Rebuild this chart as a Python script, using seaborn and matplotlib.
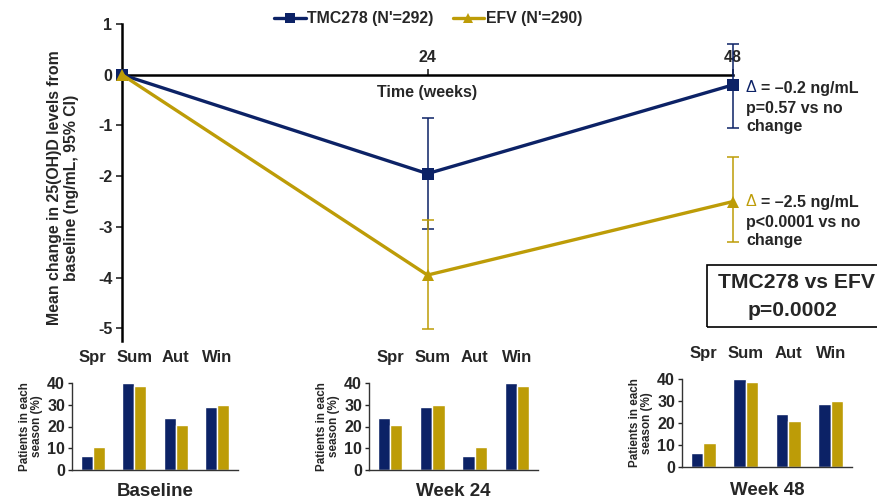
import matplotlib
matplotlib.use("Agg")
import matplotlib.pyplot as plt
import numpy as np
import pandas as pd
import seaborn as sns
from matplotlib.lines import Line2D
from matplotlib.patches import Rectangle

# Mean change in 25(OH)D (ng/mL) with 95% CI
weeks = [0, 24, 48]
tmc_mean = [0.0, -1.95, -0.2]
tmc_lo = [0.0, -3.05, -1.05]
tmc_hi = [0.0, -0.85, 0.6]
efv_mean = [0.0, -3.95, -2.5]
efv_lo = [0.0, -5.02, -3.3]
efv_hi = [0.0, -2.87, -1.63]

arm_tmc = "TMC278 (N'=292)"
arm_efv = "EFV (N'=290)"

# Patients in each season (%)
seasons = ["Spr", "Sum", "Aut", "Win"]
baseline_tmc = [6.5, 40.0, 24.0, 28.8]
baseline_efv = [10.8, 38.5, 20.7, 30.0]
week24_tmc = [24.0, 28.8, 6.5, 40.0]
week24_efv = [20.7, 30.0, 10.8, 38.5]
week48_tmc = [6.5, 40.0, 24.0, 28.8]
week48_efv = [10.8, 38.5, 20.7, 30.0]
panel_titles = ["Baseline", "Week 24", "Week 48"]

NAVY = "#0c2266"
GOLD = "#bd9c07"
palette = {arm_tmc: NAVY, arm_efv: GOLD}

sns.set_theme(style="white")
plt.rcParams["font.family"] = ["Liberation Sans", "DejaVu Sans"]
plt.rcParams["axes.unicode_minus"] = False

W, H = 877, 499
fig = plt.figure(figsize=(W / 100, H / 100), dpi=100)


def fx(px):
    return px / W


def fy(py):
    return 1 - py / H


# ---- main line chart ----
ax = fig.add_axes([fx(122), fy(341), fx(733) - fx(122), fy(24) - fy(341)])
line_df = pd.DataFrame({
    "Week": weeks + weeks,
    "Change": tmc_mean + efv_mean,
    "Arm": [arm_tmc] * 3 + [arm_efv] * 3,
})
sns.lineplot(data=line_df, x="Week", y="Change", hue="Arm", style="Arm",
             markers={arm_tmc: "s", arm_efv: "^"}, dashes=False,
             palette=palette, linewidth=2.4, markersize=8.5,
             markeredgewidth=0, legend=False, ax=ax, clip_on=False, zorder=4)

for mean, lo, hi, col in [(tmc_mean, tmc_lo, tmc_hi, NAVY),
                          (efv_mean, efv_lo, efv_hi, GOLD)]:
    m = np.array(mean[1:])
    err = np.vstack([m - np.array(lo[1:]), np.array(hi[1:]) - m])
    ax.errorbar(weeks[1:], m, yerr=err, fmt="none", ecolor=col,
                elinewidth=1.1, capsize=4, capthick=1.1, clip_on=False, zorder=3)

ax.set_xlim(0, 48)
ax.set_ylim(-5.25, 1)
ax.set_yticks([1, 0, -1, -2, -3, -4, -5])
ax.set_yticklabels(["1", "0", "-1", "-2", "-3", "-4", "-5"])
ax.set_xticks([24, 48])
ax.set_xticklabels(["24", "48"])
ax.xaxis.tick_top()
ax.spines["top"].set_position(("data", 0))
for s in ["right", "bottom"]:
    ax.spines[s].set_visible(False)
for s in ["left", "top"]:
    ax.spines[s].set_color("black")
    ax.spines[s].set_linewidth(1.8)
ax.tick_params(axis="y", direction="out", length=4, width=1.2, pad=3,
               labelsize=11.5, left=True)
ax.tick_params(axis="x", direction="out", length=4, width=1.2, pad=3,
               labelsize=11.5, top=True, bottom=False)
for lab in ax.get_xticklabels() + ax.get_yticklabels():
    lab.set_fontweight("bold")
ax.set_xlabel("")
ax.set_ylabel("")
ax.set_facecolor("none")

ax.text(24, -0.2, "Time (weeks)", ha="center", va="top", fontsize=11.5,
        fontweight="bold")

fig.text(fx(63), fy(188), "Mean change in 25(OH)D levels from\nbaseline (ng/mL, 95% CI)",
         rotation=90, ha="center", va="center", fontsize=11.4, fontweight="bold",
         linespacing=1.12)

handles = [Line2D([], [], color=NAVY, marker="s", lw=2.4, ms=7.5, mew=0),
           Line2D([], [], color=GOLD, marker="^", lw=2.4, ms=7.5, mew=0)]
fig.legend(handles, [arm_tmc, arm_efv], loc="center", ncol=2,
           bbox_to_anchor=(fx(428), fy(19)), frameon=False,
           prop={"weight": "bold", "size": 11.4}, handlelength=2.0,
           handletextpad=0.1, columnspacing=1.2)

# annotations at week 48
for y0, col, d, p in [(88, NAVY, "= \u20130.2 ng/mL", "p=0.57 vs no"),
                      (202, GOLD, "= \u20132.5 ng/mL", "p<0.0001 vs no")]:
    fig.text(fx(746), fy(y0), "\u0394", color=col, fontsize=11.5,
             ha="left", va="center")
    fig.text(fx(761), fy(y0), d, fontsize=11.5, fontweight="bold",
             ha="left", va="center")
    fig.text(fx(746), fy(y0 + 20), p, fontsize=11.5, fontweight="bold",
             ha="left", va="center")
    fig.text(fx(746), fy(y0 + 39), "change", fontsize=11.5, fontweight="bold",
             ha="left", va="center")

fig.patches.append(Rectangle((fx(707), fy(327)), fx(880) - fx(707), fy(265) - fy(327),
                             transform=fig.transFigure, fill=False,
                             edgecolor="black", linewidth=1.2))
fig.text(fx(797), fy(282), "TMC278 vs EFV", ha="center", va="center",
         fontsize=15.2, fontweight="bold")
fig.text(fx(793), fy(310), "p=0.0002", ha="center", va="center",
         fontsize=15.2, fontweight="bold")

# ---- season distribution panels ----
panels = [
    (baseline_tmc, baseline_efv, [72, 238, 470, 383], 9),
    (week24_tmc, week24_efv, [369, 538, 470, 383], 9),
    (week48_tmc, week48_efv, [682, 852, 467, 379], 11),
]
for (tmc, efv, (x0, x1, yb, yt), lpad), title in zip(panels, panel_titles):
    bx = fig.add_axes([fx(x0), fy(yb), fx(x1) - fx(x0), fy(yt) - fy(yb)])
    bar_df = pd.DataFrame({
        "Season": seasons + seasons,
        "Pct": tmc + efv,
        "Arm": [arm_tmc] * 4 + [arm_efv] * 4,
    })
    sns.barplot(data=bar_df, x="Season", y="Pct", hue="Arm", palette=palette,
                width=0.58, saturation=1, legend=False, ax=bx)
    bx.set_ylim(0, 40)
    bx.set_xlim(-0.5, 3.5)
    bx.set_yticks([0, 10, 20, 30, 40])
    bx.xaxis.tick_top()
    bx.xaxis.set_label_position("bottom")
    bx.tick_params(axis="x", length=0, pad=13, labelsize=12)
    bx.tick_params(axis="y", direction="out", length=3, width=1, pad=2,
                   labelsize=11.5, left=True)
    for lab in bx.get_xticklabels() + bx.get_yticklabels():
        lab.set_fontweight("bold")
    for s in ["top", "right"]:
        bx.spines[s].set_visible(False)
    for s in ["left", "bottom"]:
        bx.spines[s].set_color("#333333")
        bx.spines[s].set_linewidth(1)
    bx.set_xlabel(title, fontsize=13.5, fontweight="bold", labelpad=lpad)
    bx.set_ylabel("Patients in each\nseason (%)", fontsize=8.4,
                  fontweight="bold", labelpad=3, linespacing=1.05)
    bx.set_facecolor("none")

fig.savefig("out.png", dpi=100)
